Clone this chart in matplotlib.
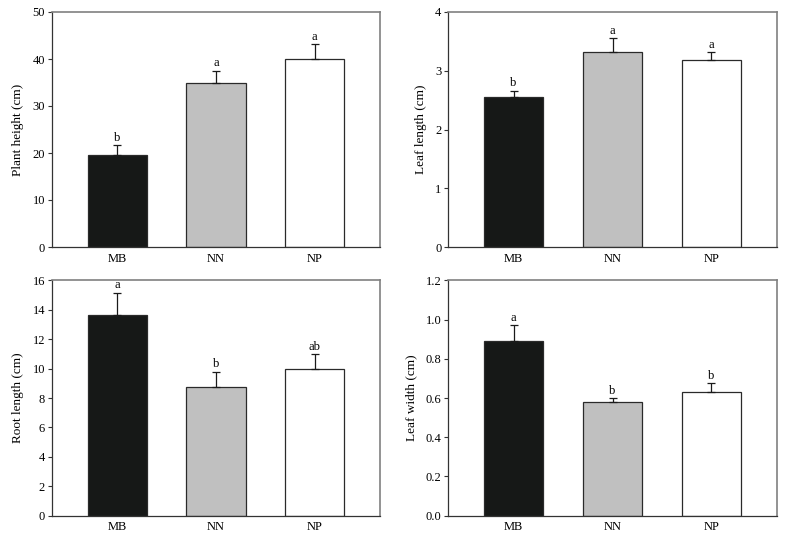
import numpy as np
import matplotlib
matplotlib.use("Agg")
from matplotlib import pyplot as plt

# data
groups = ['MB', 'NN', 'NP']
plant_height = [19.6, 34.8, 39.9]
plant_height_err = [2.0, 2.7, 3.2]
leaf_length = [2.56, 3.32, 3.18]
leaf_length_err = [0.10, 0.23, 0.14]
root_length = [13.62, 8.77, 9.97]
root_length_err = [1.54, 1.02, 1.02]
leaf_width = [0.89, 0.58, 0.63]
leaf_width_err = [0.08, 0.02, 0.045]

letters_height = ['b', 'a', 'a']
letters_leaflen = ['b', 'a', 'a']
letters_root = ['a', 'b', 'ab']
letters_width = ['a', 'b', 'b']

bar_colors = ['#161817', '#c0c0c0', '#ffffff']

matplotlib.rcParams['font.family'] = ['Liberation Serif', 'DejaVu Serif']
matplotlib.rcParams['font.size'] = 9

W, H = 785, 538
fig = plt.figure(figsize=(W / 100, H / 100), dpi=100)


def panel(rect, values, errs, letters, ylim, yticks, ylabel, fmt):
	x0, y0, x1, y1 = rect  # pixel coords: left, top, right, bottom
	ax = fig.add_axes([x0 / W, 1 - y1 / H, (x1 - x0) / W, (y1 - y0) / H])
	x = np.arange(len(groups))
	ax.bar(x, values, width=0.6, color=bar_colors, edgecolor='#2a2a2a', linewidth=0.9, zorder=2)
	ax.errorbar(x, values, yerr=[np.zeros(len(errs)), errs], fmt='none', ecolor='#1a1a1a',
	            elinewidth=0.9, capsize=2.6, capthick=0.9, zorder=3)
	span = ylim[1] - ylim[0]
	for xi, v, e, lab in zip(x, values, errs, letters):
		ax.text(xi, v + e + span * 0.006, lab, ha='center', va='bottom', fontsize=9)
	ax.set_xlim(-0.66, 2.66)
	ax.set_ylim(*ylim)
	ax.set_yticks(yticks)
	ax.set_yticklabels([fmt % t for t in yticks])
	ax.set_xticks(x)
	ax.set_xticklabels(groups)
	ax.tick_params(axis='x', length=0, pad=4, labelsize=9)
	ax.tick_params(axis='y', length=3, width=0.8, direction='out', pad=2, labelsize=9, color='#333333')
	ax.set_ylabel(ylabel, fontsize=9.5, labelpad=6)
	for s in ['left', 'bottom']:
		ax.spines[s].set_color('#333333')
		ax.spines[s].set_linewidth(0.9)
	for s in ['top', 'right']:
		ax.spines[s].set_color('#808080')
		ax.spines[s].set_linewidth(1.2)
	return ax


panel((52, 12, 380, 247), plant_height, plant_height_err, letters_height,
      (0, 50), [0, 10, 20, 30, 40, 50], 'Plant height (cm)', '%d')
panel((448.3, 12, 776.7, 247), leaf_length, leaf_length_err, letters_leaflen,
      (0, 4), [0, 1, 2, 3, 4], 'Leaf length (cm)', '%d')
panel((52, 280.3, 380, 515.7), root_length, root_length_err, letters_root,
      (0, 16), [0, 2, 4, 6, 8, 10, 12, 14, 16], 'Root length (cm)', '%d')
panel((448.3, 280.3, 776.7, 515.7), leaf_width, leaf_width_err, letters_width,
      (0, 1.2), [0, 0.2, 0.4, 0.6, 0.8, 1.0, 1.2], 'Leaf width (cm)', '%.1f')

plt.savefig('out.png', dpi=100)
